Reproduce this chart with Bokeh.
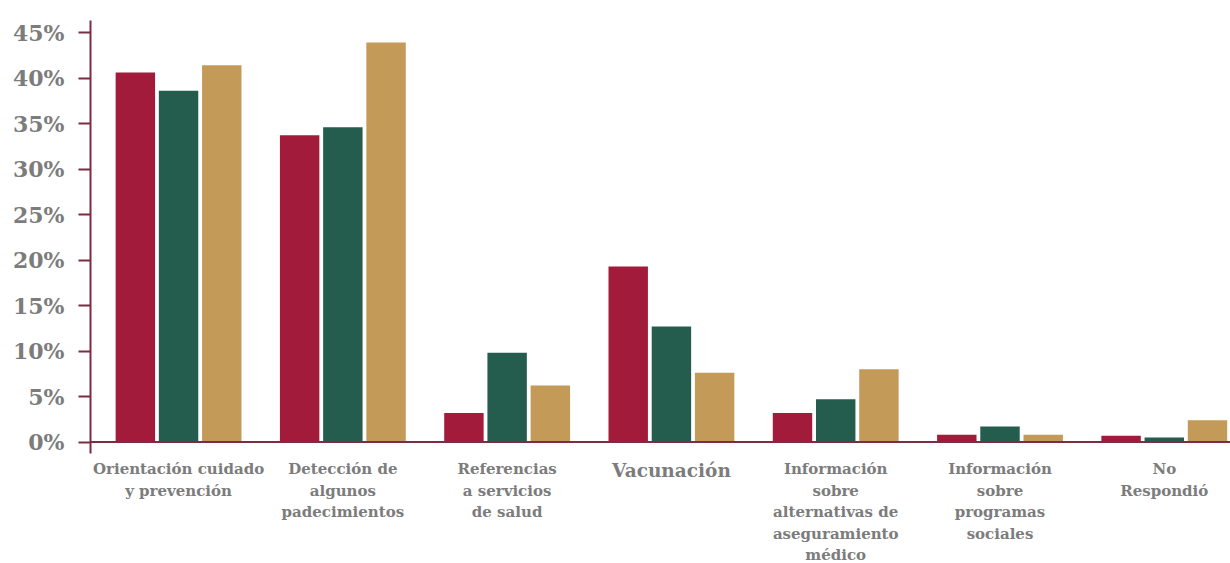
from bokeh.plotting import figure
from bokeh.models import ColumnDataSource, Range1d, FixedTicker, Span
from bokeh.transform import dodge
from bokeh.core.properties import value
from bokeh.embed import file_html
from bokeh.resources import INLINE

# ---- data ----
categories = [
    "Orientación cuidado\ny prevención",
    "Detección de\nalgunos\npadecimientos",
    "Referencias\na servicios\nde salud",
    "Vacunación",
    "Información\nsobre\nalternativas de\naseguramiento\nmédico",
    "Información\nsobre\nprogramas\nsociales",
    "No\nRespondió",
]
serie_roja = [40.6, 33.7, 3.2, 19.3, 3.2, 0.8, 0.7]
serie_verde = [38.6, 34.6, 9.8, 12.7, 4.7, 1.7, 0.5]
serie_dorada = [41.4, 43.9, 6.2, 7.6, 8.0, 0.8, 2.4]
y_ticks = [0, 5, 10, 15, 20, 25, 30, 35, 40, 45]
y_tick_labels = ["0%", "5%", "10%", "15%", "20%", "25%", "30%", "35%", "40%", "45%"]
destacada = "Vacunación"

# ---- styles ----
RED = "#A31B3A"
GREEN = "#245C4E"
GOLD = "#C49A58"
AXIS = "#7B2D44"
GREY = "#7C7C7C"

idx = list(range(len(categories)))
src = ColumnDataSource(dict(idx=idx, a=serie_roja, b=serie_verde, c=serie_dorada))
lab_src = ColumnDataSource(dict(
    idx=idx, label=categories,
    size=["18.5px" if c == destacada else "15px" for c in categories],
))

p = figure(width=1230, height=563, output_backend="svg", toolbar_location=None,
           x_range=Range1d(-0.536, 6.403), y_range=Range1d(-13.35, 48.52),
           x_axis_type=None, min_border_left=90, min_border_right=0,
           min_border_top=0, min_border_bottom=0)
p.outline_line_color = None
p.xgrid.visible = False
p.ygrid.visible = False
p.background_fill_color = "white"
p.border_fill_color = "white"

off = 0.263
w = 0.24
p.vbar(x=dodge("idx", -off, range=p.x_range), top="a", bottom=0, width=w, source=src,
       fill_color=RED, line_color=None)
p.vbar(x=dodge("idx", 0, range=p.x_range), top="b", bottom=0, width=w, source=src,
       fill_color=GREEN, line_color=None)
p.vbar(x=dodge("idx", off, range=p.x_range), top="c", bottom=0, width=w, source=src,
       fill_color=GOLD, line_color=None)

p.add_layout(Span(location=0, dimension="width", line_color=AXIS, line_width=2))

ya = p.yaxis[0]
ya.ticker = FixedTicker(ticks=y_ticks)
ya.major_label_overrides = {t: l for t, l in zip(y_ticks, y_tick_labels)}
ya.bounds = (-1.3, 46.3)
ya.axis_line_color = AXIS
ya.axis_line_width = 2
ya.major_tick_line_color = AXIS
ya.major_tick_line_width = 2
ya.major_tick_in = 0
ya.major_tick_out = 12
ya.minor_tick_line_color = None
ya.major_label_standoff = 14
ya.major_label_text_font = "DejaVu Serif"
ya.major_label_text_font_style = "bold"
ya.major_label_text_font_size = "22px"
ya.major_label_text_color = GREY

p.text(x="idx", y=0, text="label", source=lab_src, text_align="center",
       text_baseline="top", y_offset=18, text_font=value("DejaVu Serif"),
       text_font_style="bold", text_font_size="size", text_color=GREY,
       text_line_height=1.2)

open("out.html", "w").write(file_html(p, INLINE))
